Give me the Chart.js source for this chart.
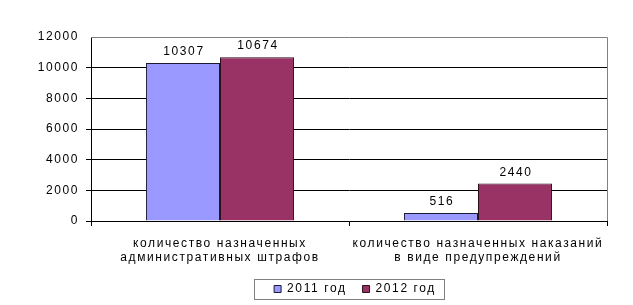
<!DOCTYPE html>
<html><head><meta charset="utf-8">
<script src="https://cdn.jsdelivr.net/npm/chart.js@4.4.0/dist/chart.umd.min.js"></script>
<style>html,body{margin:0;padding:0;background:#fff}#wrap{width:633px;height:305px;position:relative}</style>
</head><body><div id="wrap"><canvas id="c" width="633" height="305"></canvas></div>
<script>
const categories = [["количество назначенных","административных штрафов"],["количество назначенных наказаний","в виде предупреждений"]];
const seriesNames = ["2011 год","2012 год"];
const values2011 = [10307, 516];
const values2012 = [10674, 2440];
const yTicks = [0,2000,4000,6000,8000,10000,12000];

const SPACING = '1.6px';
const LEGEND_SHIFT = 6;
Chart.defaults.font.family = "'Liberation Sans', Arial, sans-serif";
Chart.defaults.font.size = 12;
Chart.defaults.color = '#000';

const spacingPlugin = {
  id:'spacing',
  beforeInit(chart){ chart.ctx.letterSpacing = SPACING; },
  beforeUpdate(chart){ chart.ctx.letterSpacing = SPACING; },
  afterLayout(chart){
    const l = chart.legend;
    if(l){ l.left += LEGEND_SHIFT; l.right += LEGEND_SHIFT; l.legendHitBoxes.forEach(h=>{h.left += LEGEND_SHIFT;}); }
  },
  beforeDraw(chart){ chart.ctx.letterSpacing = SPACING; }
};
const labelsPlugin = {
  id:'vals',
  afterDatasetsDraw(chart){
    const ctx = chart.ctx;
    ctx.save();
    ctx.letterSpacing = SPACING;
    ctx.font = "12px 'Liberation Sans', Arial, sans-serif";
    ctx.fillStyle = '#000';
    ctx.textAlign = 'center';
    ctx.textBaseline = 'alphabetic';
    chart.data.datasets.forEach((ds,i)=>{
      chart.getDatasetMeta(i).data.forEach((bar,j)=>{
        ctx.fillText(String(ds.data[j]), bar.x + 1, bar.y - 8);
      });
    });
    ctx.restore();
  }
};
const framePlugin = {
  id:'frame',
  beforeDatasetsDraw(chart){
    const a = chart.chartArea, ctx = chart.ctx;
    ctx.save();
    ctx.strokeStyle = '#808080'; ctx.lineWidth = 1;
    ctx.beginPath();
    ctx.moveTo(a.left, a.top+0.5); ctx.lineTo(a.right+0.5, a.top+0.5); ctx.lineTo(a.right+0.5, a.bottom);
    ctx.stroke();
    ctx.restore();
  },
  afterDraw(chart){
    const l = chart.legend, ctx = chart.ctx;
    if(!l || !l.legendHitBoxes.length) return;
    const hb = l.legendHitBoxes;
    const last = hb[hb.length-1];
    const x0 = hb[0].left - 20, x1 = last.left + last.width + 8;
    const y0 = hb[0].top - 4, y1 = hb[0].top + hb[0].height + 4;
    ctx.save();
    ctx.strokeStyle = '#000'; ctx.lineWidth = 1; ctx.setLineDash([1,1]);
    ctx.strokeRect(Math.round(x0)+0.5, Math.round(y0)+0.5, Math.round(x1-x0), Math.round(y1-y0));
    ctx.restore();
  }
};

new Chart(document.getElementById('c'), {
  type:'bar',
  data:{
    labels: categories,
    datasets:[
      {label: seriesNames[0], data: values2011, backgroundColor:'#9999FF', borderColor:'#1a1a33', borderWidth:1},
      {label: seriesNames[1], data: values2012, backgroundColor:'#993366', borderColor:'#2a0f1c', borderWidth:1}
    ]
  },
  options:{
    responsive:false, animation:false,
    layout:{padding:{left:0,right:26,top:37,bottom:0}},
    datasets:{bar:{categoryPercentage:0.574, barPercentage:1}},
    plugins:{
      legend:{position:'bottom', fullSize:false, labels:{boxWidth:7, boxHeight:7, padding:16, color:'#000', font:{size:12}}},
      tooltip:{enabled:false}
    },
    scales:{
      x:{
        grid:{display:true, drawOnChartArea:false, offset:true, color:'#000', tickLength:5},
        border:{color:'#000'},
        ticks:{padding:10, color:'#000', font:{size:12}, maxRotation:0, autoSkip:false},
        afterFit(s){ s.height = 46; }
      },
      y:{
        min:0, max:12000,
        afterBuildTicks(s){ s.ticks = yTicks.map(v=>({value:v})); },
        grid:{color:(c)=> c.tick && c.tick.value===12000 ? 'rgba(0,0,0,0)' : '#000', tickLength:5},
        border:{color:'#000'},
        ticks:{padding:7, color:'#000', font:{size:12}, callback:(v)=>String(v)},
        afterFit(s){ s.width = 91; }
      }
    }
  },
  plugins:[spacingPlugin, framePlugin, labelsPlugin]
});
</script></body></html>
